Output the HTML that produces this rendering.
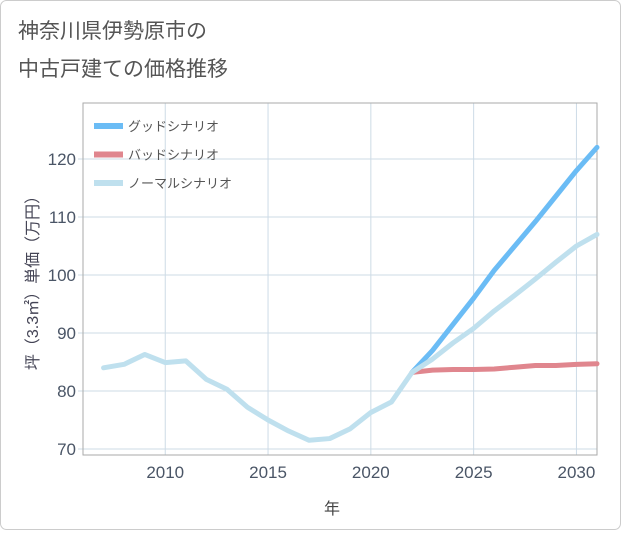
<!DOCTYPE html>
<html><head><meta charset="utf-8"><style>
body{margin:0;background:#fff;}
svg text{font-family:"Liberation Sans","Noto Sans CJK JP",sans-serif;}
</style></head><body>
<svg width="621" height="530" viewBox="0 0 621 530">
<rect x="0.5" y="0.5" width="620" height="529" rx="6" fill="#fff" stroke="#ccc"/>
<text x="18" y="38" font-size="21" fill="#555">神奈川県伊勢原市の</text>
<text x="18" y="76" font-size="21" fill="#555">中古戸建ての価格推移</text>
<g id="grid"></g>
<rect x="83" y="103" width="514" height="352" fill="none" stroke="#aaa"/>
<g id="series"></g>
<g id="legend"></g>
<text x="332" y="514" font-size="16" fill="#444" text-anchor="middle">年</text>
<text transform="translate(38,279) rotate(-90)" font-size="16" fill="#445" text-anchor="middle">坪（3.3㎡）単価（万円）</text>
</svg>
<script>
const years=[2007,2008,2009,2010,2011,2012,2013,2014,2015,2016,2017,2018,2019,2020,2021,2022,2023,2024,2025,2026,2027,2028,2029,2030,2031];
const normal=[84,84.6,86.3,84.9,85.2,82,80.3,77.2,75,73.1,71.5,71.8,73.5,76.3,78.1,83.2,85.5,88.3,90.8,93.8,96.5,99.3,102.2,105,107];
const futureYears=[2022,2023,2024,2025,2026,2027,2028,2029,2030,2031];
const good=[83.2,87,91.5,96,100.8,105,109.2,113.6,118,122];
const bad=[83.2,83.6,83.7,83.7,83.8,84.1,84.4,84.4,84.6,84.7];
const xTicks=[2010,2015,2020,2025,2030];
const yTicks=[70,80,90,100,110,120];
const legendLabels=["グッドシナリオ","バッドシナリオ","ノーマルシナリオ"];
const legendColors=["#6bbcf5","#e0868e","#bfe0ee"];
const NS="http://www.w3.org/2000/svg";
const x=v=>83+(v-2006)/(2031-2006)*514;
const y=v=>449-(v-70)*5.8;
function mk(t,a,p){const e=document.createElementNS(NS,t);for(const k in a)e.setAttribute(k,a[k]);p.appendChild(e);return e;}
const g=document.getElementById('grid');
xTicks.forEach(t=>{const l=mk('line',{x1:x(t),x2:x(t),y1:103,y2:455,stroke:'#cddbe6'},g);


const tx=mk('text',{x:x(t),y:478,'font-size':17,fill:'#4a5566','text-anchor':'middle'},g);tx.textContent=t;

});
yTicks.forEach(t=>{const l=mk('line',{x1:78,x2:597,y1:y(t),y2:y(t),stroke:'#cddbe6'},g);


const tx=mk('text',{x:76,y:y(t)+6,'font-size':17,fill:'#4a5566','text-anchor':'end'},g);tx.textContent=t;

});
const s=document.getElementById('series');
function line(xs,ys,c,name){const p=mk('polyline',{points:xs.map((v,i)=>x(v)+','+y(ys[i])).join(' '),fill:'none',stroke:c,'stroke-width':5,'stroke-linejoin':'round','stroke-linecap':'round'},s);

}
line(futureYears,bad,legendColors[1],'bad-scenario-line');
line(futureYears,good,legendColors[0],'good-scenario-line');
line(years,normal,legendColors[2],'normal-scenario-line');
const lg=document.getElementById('legend');
legendLabels.forEach((lab,i)=>{const yy=126+i*28.5;
const r=mk('rect',{x:94,y:yy-3,width:29,height:6,fill:legendColors[i]},lg);


const t=mk('text',{x:128,y:yy+5,'font-size':13,fill:'#555'},lg);t.textContent=lab;

});
</script>
</body></html>
